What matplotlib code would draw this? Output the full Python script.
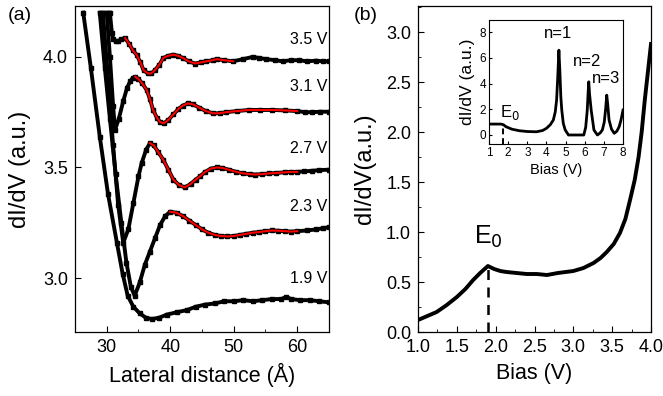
import matplotlib
matplotlib.use("Agg")
import matplotlib.pyplot as plt
from matplotlib.ticker import MultipleLocator
import numpy as np

plt.rcParams['font.family'] = ['Liberation Sans', 'DejaVu Sans']

# ---- panel (a): dI/dV line profiles at several biases ----
x19 = [26.3, 27.5, 28.9, 30.2, 31.6, 32.5, 33.3, 34.2, 35.2, 36.2, 37.1, 38.2, 39.5, 41.0,
       42.6, 44.0, 45.5, 47.0, 48.5, 50.0, 51.5, 53.0, 54.5, 56.0, 57.5, 58.3, 59.0, 60.5,
       62.0, 63.5, 65.0]
y19 = [4.20, 3.95, 3.64, 3.38, 3.16, 3.02, 2.92, 2.87, 2.84, 2.82, 2.815, 2.82, 2.835, 2.845,
       2.855, 2.87, 2.88, 2.885, 2.895, 2.895, 2.90, 2.895, 2.90, 2.905, 2.905, 2.915, 2.905,
       2.90, 2.90, 2.895, 2.89]

x23 = [28.9, 29.7, 30.5, 31.4, 32.3, 33.1, 33.8, 34.4, 35.2, 36.0, 36.8, 37.6, 38.4, 39.2,
       40.0, 41.0, 42.0, 43.0, 44.0, 45.0, 46.0, 47.0, 48.0, 49.0, 50.0, 51.0, 52.0, 53.0,
       54.0, 55.0, 56.0, 57.0, 58.0, 59.0, 60.0, 61.5, 63.0, 64.0, 65.0]
y23 = [4.20, 3.95, 3.72, 3.47, 3.25, 3.07, 2.96, 2.92, 2.98, 3.06, 3.12, 3.18, 3.24, 3.28,
       3.30, 3.295, 3.28, 3.26, 3.24, 3.22, 3.205, 3.195, 3.19, 3.188, 3.19, 3.195, 3.20, 3.205,
       3.208, 3.212, 3.215, 3.214, 3.212, 3.21, 3.212, 3.215, 3.22, 3.225, 3.23]

x27 = [29.4, 30.2, 31.0, 31.8, 32.6, 33.4, 34.2, 35.0, 35.5, 36.2, 36.8, 37.4, 38.1, 38.9,
       39.7, 40.5, 41.4, 42.3, 43.2, 44.0, 44.7, 45.5, 46.4, 47.3, 48.2, 49.2, 50.4, 51.5,
       52.5, 53.3, 54.5, 55.5, 56.7, 58.0, 59.0, 60.0, 61.0, 62.4, 63.5, 65.0]
y27 = [4.20, 3.90, 3.60, 3.33, 3.16, 3.22, 3.34, 3.46, 3.52, 3.58, 3.61, 3.60, 3.57, 3.535,
       3.49, 3.445, 3.42, 3.41, 3.425, 3.445, 3.46, 3.48, 3.495, 3.50, 3.498, 3.49, 3.48, 3.473,
       3.47, 3.468, 3.47, 3.473, 3.475, 3.478, 3.48, 3.48, 3.482, 3.485, 3.488, 3.49]

x31 = [30.0, 30.5, 31.0, 31.3, 31.9, 32.6, 33.2, 33.7, 34.1, 34.5, 35.0, 35.6, 36.3, 36.8,
       37.3, 37.9, 38.4, 39.0, 39.7, 40.5, 41.3, 42.0, 42.8, 43.6, 44.6, 45.6, 46.7, 47.8,
       48.8, 50.5, 52.4, 54.2, 56.1, 58.0, 60.0, 61.2, 62.4, 63.6, 65.0]
y31 = [4.20, 4.00, 3.78, 3.67, 3.72, 3.80, 3.86, 3.89, 3.905, 3.91, 3.90, 3.88, 3.85, 3.81,
       3.76, 3.725, 3.705, 3.70, 3.715, 3.74, 3.765, 3.78, 3.79, 3.785, 3.77, 3.755, 3.745, 3.745,
       3.75, 3.755, 3.76, 3.76, 3.76, 3.758, 3.755, 3.75, 3.75, 3.752, 3.752]

x35 = [30.5, 30.8, 31.0, 31.4, 31.8, 32.3, 32.9, 33.5, 34.1, 34.7, 35.3, 35.8, 36.5, 37.0,
       37.6, 38.3, 38.9, 39.7, 40.5, 41.2, 42.0, 42.9, 43.9, 44.8, 45.7, 46.7, 47.3, 48.5,
       49.9, 51.5, 53.0, 54.0, 55.1, 56.5, 57.7, 59.0, 60.3, 61.5, 63.0, 64.0, 65.0]
y35 = [4.20, 4.11, 4.08, 4.07, 4.07, 4.08, 4.085, 4.06, 4.03, 4.01, 3.975, 3.94, 3.925, 3.925,
       3.94, 3.965, 3.995, 4.005, 4.01, 4.005, 3.995, 3.98, 3.97, 3.975, 3.98, 3.985, 3.99, 3.985,
       3.98, 3.99, 4.00, 3.995, 3.99, 3.985, 3.98, 3.985, 3.985, 3.98, 3.983, 3.98, 3.98]

bias_labels = ["1.9 V", "2.3 V", "2.7 V", "3.1 V", "3.5 V"]
label_y = [2.965, 3.29, 3.55, 3.83, 4.045]
fit_ranges = [None, (40.0, 60.0), (36.8, 60.0), (34.5, 60.0), (32.9, 50.3)]

# ---- panel (b): dI/dV vs bias ----
bias = [1.00, 1.12, 1.24, 1.37, 1.50, 1.61, 1.71, 1.80, 1.90, 1.98, 2.06, 2.14, 2.27, 2.40,
        2.53, 2.66, 2.80, 2.90, 3.00, 3.13, 3.26, 3.35, 3.43, 3.52, 3.60, 3.67, 3.73, 3.79,
        3.84, 3.88, 3.92, 3.96, 4.00]
didv = [0.12, 0.16, 0.20, 0.27, 0.35, 0.43, 0.52, 0.59, 0.66, 0.63, 0.61, 0.60, 0.59, 0.58,
        0.58, 0.57, 0.59, 0.60, 0.61, 0.64, 0.69, 0.74, 0.80, 0.88, 0.99, 1.13, 1.32, 1.52,
        1.75, 2.00, 2.32, 2.60, 2.88]
e0_bias = 1.9
e0_didv = 0.66

# inset: wide bias range
bias_in = [1.0, 1.3, 1.62, 1.75, 1.88, 2.2, 2.59, 3.0, 3.48, 3.8, 4.0, 4.2, 4.36, 4.46, 4.53,
           4.59, 4.65, 4.70, 4.75, 4.8, 4.88, 4.98, 5.15, 5.5, 5.95, 6.05, 6.13, 6.18, 6.21,
           6.25, 6.34, 6.48, 6.66, 6.8, 6.92, 7.02, 7.09, 7.15, 7.2, 7.27, 7.4, 7.54, 7.68,
           7.80, 7.9, 8.0]
didv_in = [0.85, 0.85, 0.85, 0.8, 0.65, 0.45, 0.33, 0.27, 0.25, 0.35, 0.52, 0.8, 1.17, 1.8, 2.72,
           4.5, 6.6, 5.0, 3.0, 1.94, 0.9, 0.39, 0.0, 0.0, 0.0, 0.6, 1.9, 3.4, 4.14, 3.2,
           1.9, 0.39, 0.0, 0.15, 0.39, 1.0, 2.0, 3.1, 2.4, 1.17, 0.45, 0.13, 0.3, 0.65, 1.2, 1.94]
e0_bias_in = 1.75
e0_didv_in = 0.85
peak_names = ["n=1", "n=2", "n=3"]
peak_pos = [(4.62, 7.3), (6.13, 5.1), (7.1, 3.8)]

fig = plt.figure(figsize=(6.63, 3.96), dpi=100)
ax1 = fig.add_axes([0.1131, 0.1616, 0.3831, 0.8232])
ax2 = fig.add_axes([0.6305, 0.1616, 0.3514, 0.8232])
axin = fig.add_axes([0.7376, 0.6364, 0.2021, 0.3131])

curves = [(x19, y19), (x23, y23), (x27, y27), (x31, y31), (x35, y35)]
for (xs, ys), lab, ly, fr in zip(curves, bias_labels, label_y, fit_ranges):
    xs = np.array(xs)
    ys = np.array(ys)
    ax1.plot(xs, ys, color='black', lw=2.8, marker='s', ms=2.8, zorder=2)
    if fr is not None:
        m = (xs >= fr[0]) & (xs <= fr[1])
        ax1.plot(xs[m], ys[m], color='red', lw=1.5, zorder=3)
    ax1.text(64.7, ly, lab, ha='right', va='bottom', fontsize=11.5)

ax1.set_xlim(25, 65)
ax1.set_ylim(2.756, 4.23)
ax1.set_xticks([30, 40, 50, 60])
ax1.xaxis.set_minor_locator(MultipleLocator(5))
ax1.set_yticks([3.0, 3.5, 4.0])
ax1.set_xlabel("Lateral distance (Å)", fontsize=15.5, labelpad=5)
ax1.set_ylabel("dI/dV (a.u.)", fontsize=17, labelpad=9)

ax2.plot(bias, didv, color='black', lw=2.8)
ax2.plot([e0_bias, e0_bias], [0, e0_didv], color='black', lw=1.8, ls=(0, (4, 3)))
ax2.text(e0_bias, 0.82, "E$_0$", ha='center', va='bottom', fontsize=18)
ax2.set_xlim(1.0, 4.0)
ax2.set_ylim(0, 3.26)
ax2.xaxis.set_major_locator(MultipleLocator(0.5))
ax2.xaxis.set_minor_locator(MultipleLocator(0.25))
ax2.yaxis.set_major_locator(MultipleLocator(0.5))
ax2.yaxis.set_minor_locator(MultipleLocator(0.25))
ax2.set_xlabel("Bias (V)", fontsize=15.5, labelpad=5)
ax2.set_ylabel("dI/dV(a.u.)", fontsize=17, labelpad=7)

for ax in (ax1, ax2):
    ax.tick_params(which='both', direction='in', top=False, right=False, labelsize=13, pad=5)
    ax.tick_params(which='major', length=4)
    ax.tick_params(which='minor', length=2.5)
    for s in ax.spines.values():
        s.set_linewidth(0.9)

axin.plot(bias_in, didv_in, color='black', lw=2.0)
axin.plot([e0_bias_in, e0_bias_in], [-0.7, e0_didv_in], color='black', lw=1.4, ls=(0, (3, 2)))
axin.text(1.55, 1.0, "E$_0$", fontsize=12, va='bottom')
for name, (px, py) in zip(peak_names, peak_pos):
    axin.text(px, py, name, ha='center', va='bottom', fontsize=12)
axin.set_xlim(1, 8)
axin.set_ylim(-0.7, 8.95)
axin.set_xticks(range(1, 9))
axin.set_yticks([0, 2, 4, 6, 8])
axin.tick_params(direction='in', length=2.5, labelsize=8.5, pad=2)
axin.set_xlabel("Bias (V)", fontsize=10.5, labelpad=3)
axin.set_ylabel("dI/dV (a.u.)", fontsize=12.5, labelpad=3)

fig.text(0.012, 0.962, "(a)", fontsize=14, va='center')
fig.text(0.533, 0.962, "(b)", fontsize=14, va='center')

fig.savefig("out.png", dpi=100)
